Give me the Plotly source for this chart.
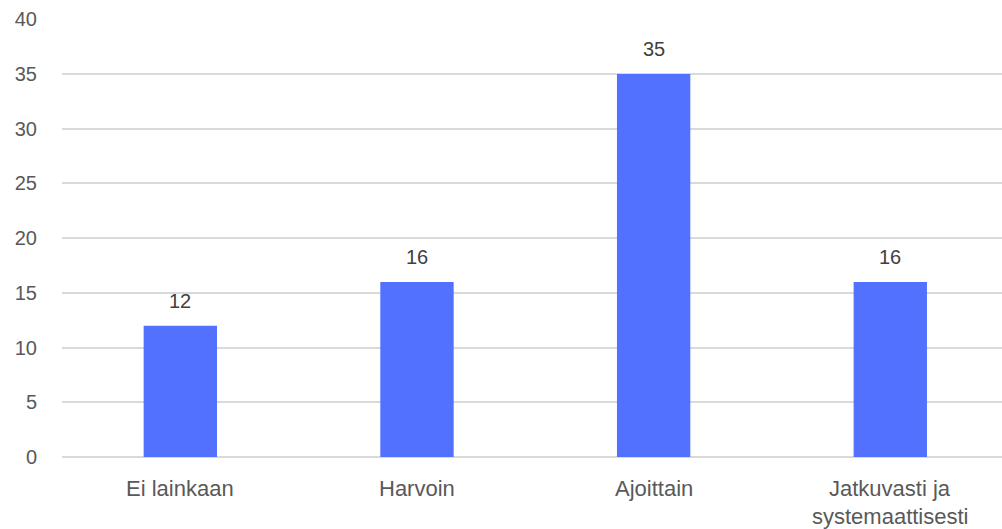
import plotly.graph_objects as go

categories = ["Ei lainkaan", "Harvoin", "Ajoittain", "Jatkuvasti ja systemaattisesti"]
category_lines = [["Ei lainkaan"], ["Harvoin"], ["Ajoittain"], ["Jatkuvasti ja", "systemaattisesti"]]
values = [12, 16, 35, 16]
y_ticks = [0, 5, 10, 15, 20, 25, 30, 35, 40]

BAR_COLOR = "#5271FF"
GRID_COLOR = "#D9D9D9"
FONT = "'Liberation Sans', Arial, sans-serif"
TEXT_COLOR = "#595959"

fig = go.Figure()
fig.add_trace(go.Bar(
    x=list(range(len(categories))),
    y=values,
    marker=dict(color=BAR_COLOR, line=dict(width=0)),
    width=0.31,
    hoverinfo="skip",
))

# value labels above each bar
for i, v in enumerate(values):
    fig.add_annotation(
        x=i, y=v, text=str(v), showarrow=False,
        yanchor="middle", yshift=25,
        font=dict(family=FONT, size=20, color="#404040"),
    )

# category labels under the axis, one annotation per line
for i, lines in enumerate(category_lines):
    for j, line in enumerate(lines):
        fig.add_annotation(
            x=i, y=0, text=line, showarrow=False,
            yanchor="middle", yshift=-31 - 28 * j,
            font=dict(family=FONT, size=22, color=TEXT_COLOR),
        )

fig.update_layout(
    width=1002, height=529,
    margin=dict(l=62, r=0, t=19, b=72),
    paper_bgcolor="white", plot_bgcolor="white",
    showlegend=False,
    font=dict(family=FONT, size=20, color=TEXT_COLOR),
    xaxis=dict(
        range=[-0.5, 3.472],
        tickmode="array",
        tickvals=list(range(len(categories))),
        ticktext=["" for _ in categories],
        showgrid=False, zeroline=False, showline=False,
        ticks="",
        fixedrange=True,
    ),
    yaxis=dict(
        range=[0, 40.03],
        tickmode="array",
        tickvals=y_ticks,
        showgrid=True, gridcolor=GRID_COLOR, gridwidth=1.5,
        zeroline=True, zerolinecolor=GRID_COLOR, zerolinewidth=1.5,
        showline=False, ticks="",
        ticklabelstandoff=24,
        tickfont=dict(family=FONT, size=20, color=TEXT_COLOR),
        fixedrange=True,
    ),
)

fig.write_html("out.html")
